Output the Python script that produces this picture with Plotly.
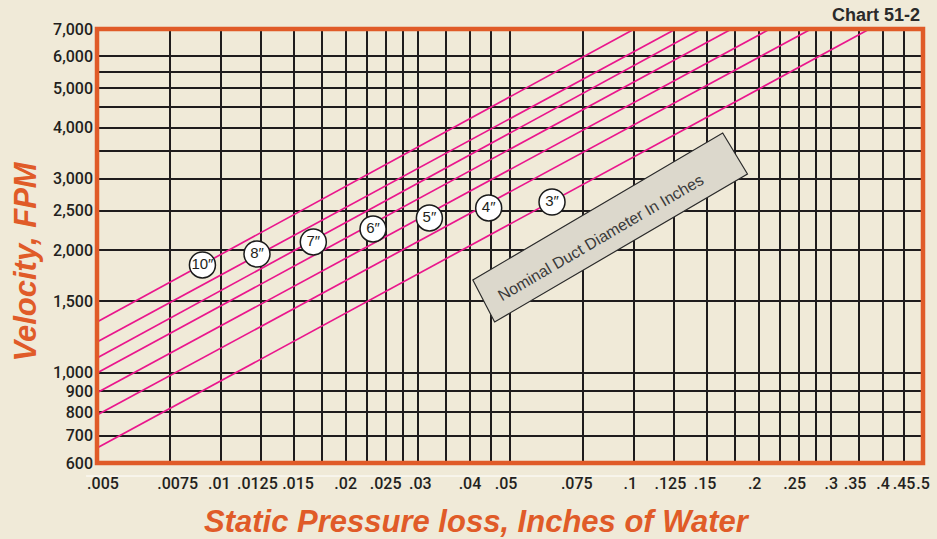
import math
import plotly.graph_objects as go

# ---------------- data ----------------
diameters = ["10", "8", "7", "6", "5", "4", "3"]
# each duct line: start at left edge (p=.005) and end at top edge (V=7000)
p_start = [0.005, 0.005, 0.005, 0.005, 0.005, 0.005, 0.005]
v_start = [1333, 1191, 1087, 999, 893, 787, 653]
p_end = [0.100, 0.126, 0.145, 0.172, 0.213, 0.268, 0.371]
v_end = [7000, 7000, 7000, 7000, 7000, 7000, 7000]
# circle labels on each line
label_p = [0.0090, 0.0122, 0.0167, 0.0233, 0.0319, 0.0444, 0.0632]
label_v = [1841, 1959, 2097, 2257, 2402, 2542, 2629]

x_tick_vals = [0.005, 0.0075, 0.01, 0.0125, 0.015, 0.02, 0.025, 0.03, 0.04, 0.05,
               0.075, 0.1, 0.125, 0.15, 0.2, 0.25, 0.3, 0.35, 0.4, 0.45, 0.5]
x_tick_text = [".005", ".0075", ".01", ".0125", ".015", ".02", ".025", ".03", ".04", ".05",
               ".075", ".1", ".125", ".15", ".2", ".25", ".3", ".35", ".4", ".45", ".5"]
x_minor_vals = [0.0175, 0.0225, 0.0275, 0.035, 0.045, 0.175, 0.225, 0.275]

y_tick_vals = [600, 700, 800, 900, 1000, 1500, 2000, 2500, 3000, 4000, 5000, 6000, 7000]
y_tick_text = ["600", "700", "800", "900", "1,000", "1,500", "2,000", "2,500",
               "3,000", "4,000", "5,000", "6,000", "7,000"]
y_minor_vals = [3500, 4500, 5500]

# ---------------- styles ----------------
BG = "#f0ead8"
ORANGE = "#e05b28"
PINK = "#ea168c"
GRID = "#1f1c1d"
TXT = "#231f20"
FONT = "Liberation Sans, Arial, sans-serif"
TICKFONT = "Roboto, Liberation Sans, Arial, sans-serif"

# small horizontal nudges of the printed x labels (non-breaking-space padding:
# positive = pad on the left, negative = pad on the right)
x_label_nudge = [3, 4, -1, -2, 2, 0, 0, 1, 0, -2,
                 -3, -2, -2, -1, -2, -2, 0, -2, 0, 0, 0]
NB = "\u00a0"
x_tick_text_shown = [
    (NB * n + t) if n > 0 else (t + NB * (-n))
    for t, n in zip(x_tick_text, x_label_nudge)
]

fig = go.Figure()

for i, d in enumerate(diameters):
    fig.add_trace(go.Scatter(
        x=[p_start[i], p_end[i]], y=[v_start[i], v_end[i]],
        mode="lines", line=dict(color=PINK, width=1.7),
        hoverinfo="skip", showlegend=False))

fig.add_trace(go.Scatter(
    x=label_p, y=label_v, mode="markers+text",
    text=[f"{d}″" for d in diameters],
    textposition="middle center",
    textfont=dict(family=FONT, size=15, color=TXT),
    marker=dict(size=26, color="white", line=dict(color="#1a1a1a", width=1.5)),
    showlegend=False, hoverinfo="skip"))

W, H = 937, 539
L, R, T, B = 97, 7, 29, 76
pw, ph = W - L - R, H - T - B


def px(x):
    return (x - L) / pw


def py(y):
    return (H - B - y) / ph


# rotated label box (pixel corners -> paper)
corners = [(476, 280), (498, 322), (753, 174), (728, 133)]
path = "M " + " L ".join(f"{px(a):.4f},{py(b):.4f}" for a, b in corners) + " Z"

fig.update_layout(
    width=W, height=H,
    margin=dict(l=L, r=R, t=T, b=B),
    paper_bgcolor=BG, plot_bgcolor=BG,
    font=dict(family=FONT, color=TXT),
    xaxis=dict(
        type="log", range=[math.log10(0.005), math.log10(0.5)],
        tickmode="array", tickvals=x_tick_vals, ticktext=x_tick_text_shown,
        tickfont=dict(size=16, color=TXT, family=TICKFONT, weight=500), tickangle=0,
        ticks="outside", ticklen=6, tickcolor="rgba(0,0,0,0)",
        showgrid=True, gridcolor=GRID, gridwidth=1.8,
        minor=dict(tickvals=x_minor_vals, showgrid=True, gridcolor=GRID,
                   gridwidth=1.8, ticks=""),
        zeroline=False, showline=False, fixedrange=True),
    yaxis=dict(
        type="log", range=[math.log10(600), math.log10(7000)],
        tickmode="array", tickvals=y_tick_vals, ticktext=y_tick_text,
        tickfont=dict(size=16, color=TXT, family=TICKFONT, weight=500),
        ticks="", ticklabelstandoff=3,
        showgrid=True, gridcolor=GRID, gridwidth=1.8,
        minor=dict(tickvals=y_minor_vals, showgrid=True, gridcolor=GRID,
                   gridwidth=1.8, ticks=""),
        zeroline=False, showline=False, fixedrange=True),
    shapes=[
        dict(type="path", xref="paper", yref="paper", path=path,
             fillcolor="#dcd8cc", line=dict(color="#2a2a2a", width=1.2),
             layer="above"),
        dict(type="line", xref="paper", yref="paper",
             x0=px(86), x1=px(935), y0=py(476), y1=py(476),
             line=dict(color="white", width=1)),
        dict(type="rect", xref="paper", yref="paper", x0=0, x1=1, y0=0, y1=1,
             line=dict(color=ORANGE, width=4.5), layer="above"),
    ],
    annotations=[
        dict(text="Nominal Duct Diameter In Inches", xref="paper", yref="paper",
             x=px(605), y=py(237), showarrow=False, textangle=-30.3,
             font=dict(size=16, color="#3a3a3a", family=FONT)),
        dict(text="<b>Chart 51-2</b>", xref="paper", yref="paper",
             x=px(929), y=py(15), xanchor="right", yanchor="middle",
             showarrow=False, font=dict(size=18, color="#2a2a2a", family=FONT)),
        dict(text="<b><i>Velocity, FPM</i></b>", xref="paper", yref="paper",
             x=px(24), y=py(262), xanchor="center", yanchor="middle",
             textangle=-90, showarrow=False,
             font=dict(size=31, color=ORANGE, family=FONT)),
        dict(text="<b><i>Static Pressure loss, Inches of Water</i></b>",
             xref="paper", yref="paper", x=px(480), y=py(521),
             xanchor="center", yanchor="middle", showarrow=False,
             font=dict(size=31, color=ORANGE, family=FONT)),
    ],
)

fig.write_html("out.html", config={"displayModeBar": False},
               post_script="document.body.style.margin='0';")
